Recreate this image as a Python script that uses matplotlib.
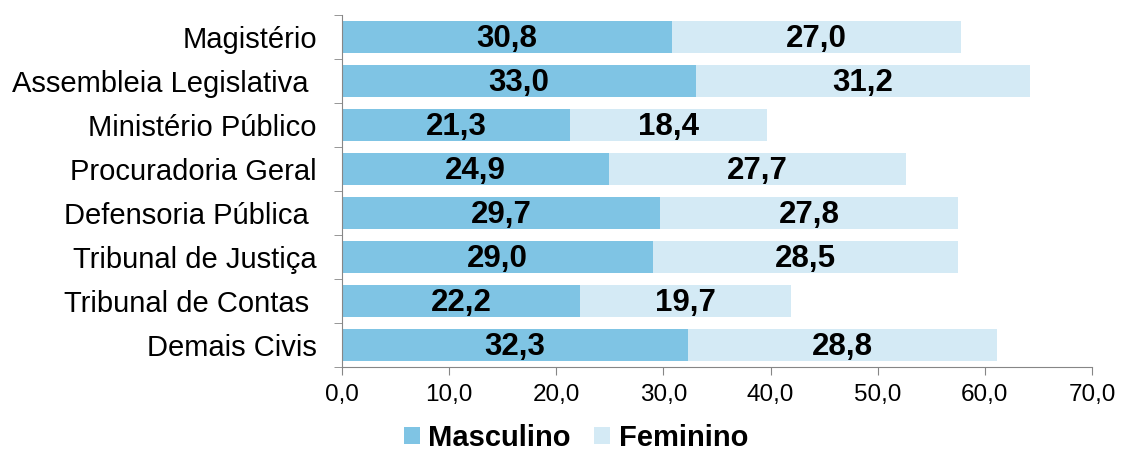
import matplotlib.pyplot as plt
import numpy as np

plt.rcParams['font.family'] = ['Liberation Sans', 'DejaVu Sans']

categorias = ['Magistério', 'Assembleia Legislativa ', 'Ministério Público',
              'Procuradoria Geral', 'Defensoria Pública ', 'Tribunal de Justiça',
              'Tribunal de Contas ', 'Demais Civis']
masculino = [30.8, 33.0, 21.3, 24.9, 29.7, 29.0, 22.2, 32.3]
feminino = [27.0, 31.2, 18.4, 27.7, 27.8, 28.5, 19.7, 28.8]
xticks = [0, 10, 20, 30, 40, 50, 60, 70]

cor_m = '#7fc4e4'
cor_f = '#d4eaf5'
cinza = '#868686'

fig = plt.figure(figsize=(11.23, 4.5), dpi=100)
ax = fig.add_axes([0.3045, 0.1844, 0.6679, 0.7823])

y = np.arange(len(categorias))[::-1]
bm = ax.barh(y, masculino, height=0.73, color=cor_m, label='Masculino')
bf = ax.barh(y, feminino, left=masculino, height=0.73, color=cor_f, label='Feminino')

def fmt(v):
    return f'{v:.1f}'.replace('.', ',')

# rotulos dentro das barras
for yi, m, f in zip(y, masculino, feminino):
    ax.text(m / 2, yi - 0.04, fmt(m), ha='center', va='center', fontsize=22.5, fontweight='bold')
    ax.text(m + f / 2, yi - 0.04, fmt(f), ha='center', va='center', fontsize=22.5, fontweight='bold')

ax.set_xlim(0, 70)
ax.set_ylim(-0.5, len(categorias) - 0.5)
ax.set_xticks(xticks)
ax.set_xticklabels([fmt(v) for v in xticks], fontsize=17.5)
ax.set_yticks(y)
ax.set_yticklabels(categorias, fontsize=21)
ax.set_yticks(np.arange(len(categorias) + 1) - 0.5, minor=True)
ax.tick_params(axis='y', which='major', length=0, pad=18)
ax.tick_params(axis='y', which='minor', length=6, color=cinza, direction='out')
ax.tick_params(axis='x', length=6, color=cinza, pad=6)

for s in ['top', 'right']:
    ax.spines[s].set_visible(False)
for s in ['left', 'bottom']:
    ax.spines[s].set_color(cinza)

fig.legend(handles=[bm, bf], loc='center', bbox_to_anchor=(576 / 1123, 1 - 438 / 450),
           ncol=2, frameon=False, prop={'size': 21, 'weight': 'bold'},
           handlelength=0.55, handleheight=0.55, handletextpad=0.3, columnspacing=0.8)

fig.savefig('out.png', dpi=100)
